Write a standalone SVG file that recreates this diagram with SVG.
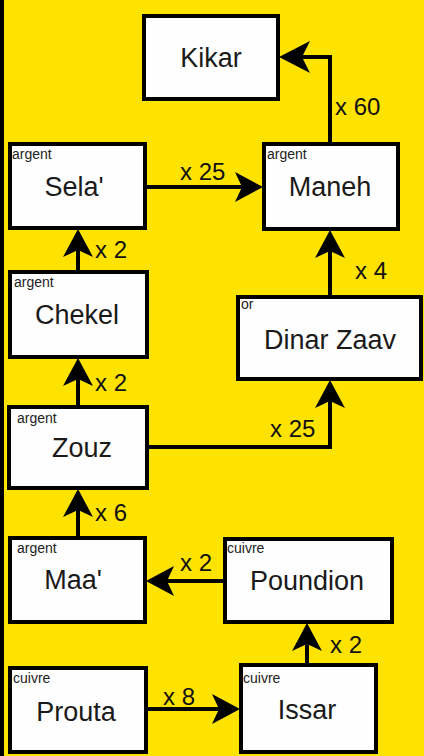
<svg xmlns="http://www.w3.org/2000/svg" width="424" height="756" viewBox="0 0 424 756">
<style>
.box{fill:#fefefe;stroke:#000;stroke-width:4}
.t{font-family:"Liberation Sans",Arial,sans-serif;font-size:27px;fill:#1a1a1a;text-anchor:middle}
.s{font-family:"Liberation Sans",Arial,sans-serif;font-size:14px;fill:#222}
.l{font-family:"Liberation Sans",Arial,sans-serif;font-size:24px;fill:#111}
.c{fill:none;stroke:#000;stroke-width:4}
</style>
<defs>
<marker id="ah" markerUnits="userSpaceOnUse" viewBox="-30 -17 32 34" refX="-4" refY="0" markerWidth="32" markerHeight="34" orient="auto" overflow="visible">
<path d="M0,0 L-28,-15 L-21,0 L-28,15 Z" fill="#000"/>
</marker>
<marker id="ahb" markerUnits="userSpaceOnUse" viewBox="-34 -18 36 36" refX="-4" refY="0" markerWidth="36" markerHeight="36" orient="auto" overflow="visible">
<path d="M0,0 L-31,-16 L-23,0 L-31,16 Z" fill="#000"/>
</marker>
</defs>
<rect x="0" y="0" width="424" height="756" fill="#ffe300"/>
<rect x="0" y="0" width="4" height="756" fill="#000"/>
<g id="connectors">
<path class="c" d="M330,143 V57 H283" marker-end="url(#ahb)"/>
<path class="c" d="M146,187 H259" marker-end="url(#ah)"/>
<path class="c" d="M78,271 V233" marker-end="url(#ah)"/>
<path class="c" d="M330,296 V234" marker-end="url(#ah)"/>
<path class="c" d="M78,406 V362" marker-end="url(#ah)"/>
<path class="c" d="M148,447 H330 V384" marker-end="url(#ah)"/>
<path class="c" d="M78,537 V493" marker-end="url(#ah)"/>
<path class="c" d="M224,581 H150" marker-end="url(#ah)"/>
<path class="c" d="M307,664 V627" marker-end="url(#ah)"/>
<path class="c" d="M147,709 H236" marker-end="url(#ah)"/>
<text class="l" x="335" y="115">x 60</text>
<text class="l" x="180" y="180">x 25</text>
<text class="l" x="95" y="258">x 2</text>
<text class="l" x="355" y="279">x 4</text>
<text class="l" x="95" y="391">x 2</text>
<text class="l" x="270" y="437">x 25</text>
<text class="l" x="95" y="521">x 6</text>
<text class="l" x="180" y="571">x 2</text>
<text class="l" x="330" y="653">x 2</text>
<text class="l" x="163" y="705">x 8</text>
</g>
<g id="kikar"><rect class="box" x="144" y="16" width="134" height="83"/><text class="t" x="211" y="67">Kikar</text></g>
<g id="sela"><rect class="box" x="10" y="144" width="135" height="84"/><text class="s" x="12" y="159">argent</text><text class="t" x="74" y="196">Sela'</text></g>
<g id="maneh"><rect class="box" x="264" y="144" width="134" height="85"/><text class="s" x="267" y="159">argent</text><text class="t" x="330" y="196">Maneh</text></g>
<g id="chekel"><rect class="box" x="10" y="272" width="137" height="85"/><text class="s" x="14" y="287">argent</text><text class="t" x="77" y="324">Chekel</text></g>
<g id="dinar-zaav"><rect class="box" x="238" y="297" width="183" height="82"/><text class="s" x="241" y="309">or</text><text class="t" x="330" y="349">Dinar Zaav</text></g>
<g id="zouz"><rect class="box" x="9" y="407" width="138" height="81"/><text class="s" x="17" y="423">argent</text><text class="t" x="82" y="457">Zouz</text></g>
<g id="maa"><rect class="box" x="10" y="538" width="135" height="84"/><text class="s" x="17" y="553">argent</text><text class="t" x="73" y="589">Maa'</text></g>
<g id="poundion"><rect class="box" x="225" y="539" width="167" height="83"/><text class="s" x="227" y="553">cuivre</text><text class="t" x="307" y="590">Poundion</text></g>
<g id="prouta"><rect class="box" x="10" y="668" width="136" height="84"/><text class="s" x="13" y="683">cuivre</text><text class="t" x="76" y="721">Prouta</text></g>
<g id="issar"><rect class="box" x="241" y="665" width="135" height="87"/><text class="s" x="243" y="683">cuivre</text><text class="t" x="307" y="719">Issar</text></g>
</svg>
